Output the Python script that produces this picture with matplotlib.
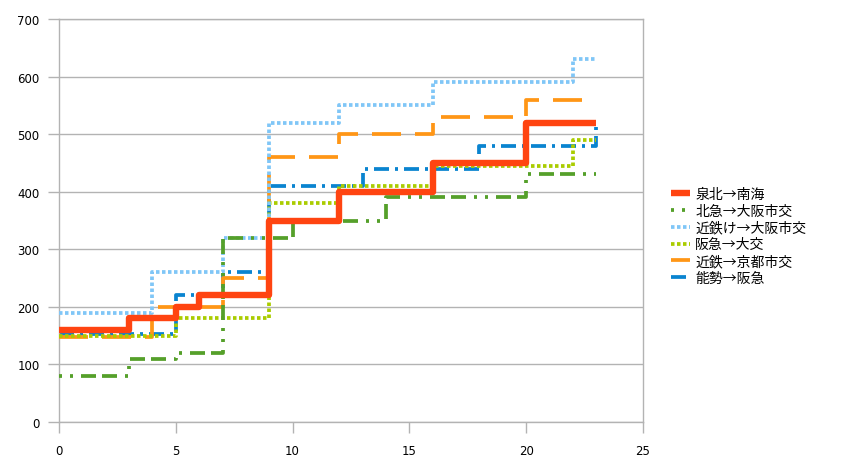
import matplotlib
matplotlib.use("Agg")
import matplotlib.pyplot as plt

plt.rcParams['font.family'] = ['Noto Sans CJK JP', 'DejaVu Sans']
plt.rcParams['lines.scale_dashes'] = False

# hour 0..23, value held until next hour (step chart)
hours = list(range(24))

senboku_nankai = [160, 160, 160, 180, 180, 200, 220, 220, 220, 350, 350, 350,
                  400, 400, 400, 400, 450, 450, 450, 450, 520, 520, 520, 520]
hokkyu_osaka = [80, 80, 80, 110, 110, 120, 120, 320, 320, 320, 350, 350,
                350, 350, 390, 390, 390, 390, 390, 390, 430, 430, 430, 430]
kintetsuke_osaka = [190, 190, 190, 190, 260, 260, 260, 320, 320, 520, 520, 520,
                    550, 550, 550, 550, 590, 590, 590, 590, 590, 590, 630, 630]
hankyu_daiko = [150, 150, 150, 150, 150, 180, 180, 180, 180, 380, 380, 380,
                410, 410, 410, 410, 445, 445, 445, 445, 445, 445, 490, 490]
kintetsu_kyoto = [148, 148, 148, 148, 200, 200, 200, 250, 250, 460, 460, 460,
                  500, 500, 500, 500, 530, 530, 530, 530, 560, 560, 560, 560]
nose_hankyu = [153, 153, 153, 153, 153, 220, 220, 260, 260, 410, 410, 410,
               410, 440, 440, 440, 440, 440, 480, 480, 480, 480, 480, 520]

labels = ['泉北→南海', '北急→大阪市交', '近鉄け→大阪市交', '阪急→大交', '近鉄→京都市交', '能勢→阪急']

fig = plt.figure(figsize=(8.43, 4.77), dpi=100)
ax = fig.add_axes([59 / 843, 1 - 423 / 477, (643 - 59) / 843, (423 - 20) / 477])

p = 0.72  # px -> pt
series = [
    (nose_hankyu, labels[5], '#0A84D0', 2.7, (0, (15 * p, 6 * p, 3 * p, 6 * p)), 2),
    (kintetsu_kyoto, labels[4], '#FF9616', 2.7, (0, (29 * p, 14 * p)), 3),
    (hankyu_daiko, labels[3], '#AACC00', 2.7, (0, (3.5 * p, 2.5 * p)), 4),
    (kintetsuke_osaka, labels[2], '#80C6F7', 2.7, (0, (3.5 * p, 2.5 * p)), 5),
    (hokkyu_osaka, labels[1], '#55A02A', 2.7, (0, (3 * p, 8 * p, 3 * p, 8 * p, 15 * p, 6 * p, 15 * p, 8 * p)), 6),
    (senboku_nankai, labels[0], '#FF4411', 4.6, '-', 7),
]

handles = {}
for vals, lab, col, lw, ls, z in series:
    ln, = ax.plot(hours, vals, drawstyle='steps-post', color=col, lw=lw,
                  linestyle=ls, dash_capstyle='butt', solid_capstyle='butt',
                  zorder=z, label=lab)
    handles[lab] = ln

ax.set_xlim(0, 25)
ax.set_ylim(0, 700)
ax.set_xticks(range(0, 26, 5))
ax.set_yticks(range(0, 701, 100))
ax.grid(axis='y', color='#B3B3B3', lw=1)
ax.set_axisbelow(True)
for s in ax.spines.values():
    s.set_color('#B3B3B3')
    s.set_linewidth(1)
ax.tick_params(colors='#B3B3B3', labelcolor='black', length=8, width=1,
               labelsize=8.5, direction='out')
ax.tick_params(axis='x', pad=8)
ax.tick_params(axis='y', pad=6)
for t in ax.get_xticklabels() + ax.get_yticklabels():
    t.set_family('DejaVu Sans')

fig.legend([handles[l] for l in labels], labels, loc='center left',
           bbox_to_anchor=(671 / 843, 1 - 237 / 477), frameon=False,
           fontsize=10, handlelength=1.35, handletextpad=0.4, labelspacing=0.2,
           borderpad=0, borderaxespad=0)

fig.savefig('out.png', dpi=100)
